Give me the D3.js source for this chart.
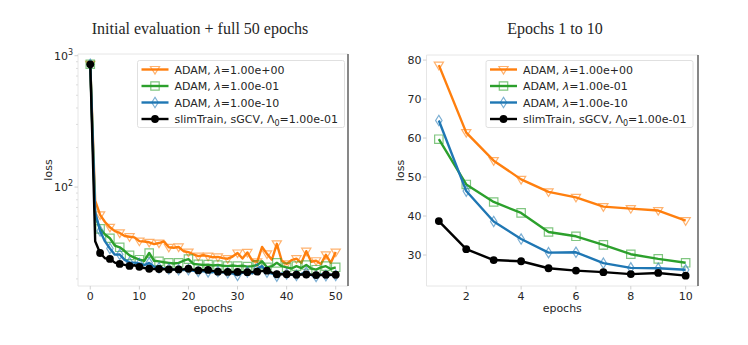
<!DOCTYPE html>
<html>
<head>
<meta charset="utf-8">
<script src="https://cdn.jsdelivr.net/npm/d3@7"></script>
<style>
  body { margin: 0; background: #fff; }
  text { font-family: "DejaVu Sans", sans-serif; fill: #262626; }
  .title { font-family: "Liberation Serif", serif; font-size: 16px; }
</style>
</head>
<body>
<svg id="chart" width="748" height="345"></svg>
<script>
// loss per epoch, epoch 0 is the initial evaluation
var epochs = d3.range(0, 51)
var adamL1 = [860, 78.7, 61.4, 54.2, 49.4, 46.2, 44.8, 42.4, 41.9, 41.4, 38.8,
  38.5, 38.0, 36.8, 37.5, 38.6, 34.8, 34.5, 35.0, 32.5, 32.0,
  30.8, 29.8, 30.3, 29.8, 29.2, 29.4, 28.8, 28.5, 29.6, 31.5,
  28.6, 31.8, 27.5, 27.0, 35.0, 31.0, 28.0, 37.0, 27.5, 26.0,
  27.8, 28.5, 26.5, 32.5, 27.0, 27.5, 26.0, 30.5, 26.5, 32.0]
var adamL01 = [860, 59.7, 48.1, 43.6, 40.8, 35.9, 34.8, 32.6, 30.2, 29.0, 28.0,
  27.5, 31.5, 27.5, 27.2, 26.8, 26.5, 26.2, 26.5, 27.5, 28.3,
  26.0, 25.8, 25.5, 25.7, 25.3, 25.5, 25.2, 25.0, 25.3, 25.0,
  25.2, 24.8, 25.0, 25.5, 27.2, 24.5, 25.0, 26.5, 25.0, 24.5,
  24.0, 25.0, 24.2, 25.5, 24.0, 23.5, 24.5, 25.0, 23.8, 24.5]
var adamL10 = [860, 64.5, 46.4, 38.6, 34.1, 30.6, 30.7, 27.9, 26.7, 26.6, 26.2,
  25.5, 26.5, 24.8, 24.3, 24.0, 23.8, 23.6, 23.5, 23.4, 23.5,
  23.0, 22.8, 22.9, 22.6, 22.5, 22.8, 22.4, 22.3, 22.0, 21.3,
  22.3, 22.6, 22.0, 24.0, 25.0, 22.5, 22.0, 21.0, 22.0, 21.8,
  21.5, 21.3, 21.8, 22.4, 21.4, 20.9, 21.6, 21.2, 21.5, 21.3]
var slim = [860, 38.7, 31.5, 28.7, 28.4, 26.6, 26.0, 25.6, 25.1, 25.4, 24.7,
  24.2, 23.9, 23.8, 23.8, 23.7, 23.6, 23.6, 23.6, 23.7, 23.9,
  23.5, 23.2, 23.3, 23.4, 23.0, 22.7, 22.6, 22.6, 22.6, 22.6,
  22.5, 22.5, 22.6, 22.7, 22.9, 23.1, 22.3, 21.7, 21.7, 21.7,
  21.6, 21.5, 21.6, 21.6, 21.5, 21.4, 21.4, 21.5, 21.5, 21.5]

var leftXTicks = [0, 10, 20, 30, 40, 50]
var rightXTicks = [2, 4, 6, 8, 10]
var rightYTicks = [30, 40, 50, 60, 70, 80]

var series = [
  {name: "l1", lam: "1.00e+00", values: adamL1, color: "#ff7f0e", marker: "tri"},
  {name: "l01", lam: "1.00e-01", values: adamL01, color: "#2ca02c", marker: "square"},
  {name: "l10", lam: "1.00e-10", values: adamL10, color: "#1f77b4", marker: "diamond"},
  {name: "slim", lam: "1.00e-01", values: slim, color: "#000000", marker: "circle"}
]

var svg = d3.select("#chart")

function markerPath(type) {
  if (type == "tri") return "M-4.6,-3L4.6,-3L0,4.6Z"
  if (type == "square") return "M-4.2,-4.2L4.2,-4.2L4.2,4.2L-4.2,4.2Z"
  if (type == "diamond") return "M0,-5.2L3.2,0L0,5.2L-3.2,0Z"
  return d3.symbol().type(d3.symbolCircle).size(48)()
}

function drawMarker(g, s, x, y) {
  var p = g.append("path")
    .attr("d", markerPath(s.marker))
    .attr("transform", "translate(" + x + "," + y + ")")
  if (s.marker == "circle") {
    p.attr("fill", "#000")
  } else {
    p.attr("fill", "none")
      .attr("stroke", s.color)
      .attr("stroke-opacity", 0.6)
      .attr("stroke-width", 1.2)
  }
}

function drawPanel(opt) {
  var g = svg.append("g")
  var x = opt.x, y = opt.y
  var x0 = x.range()[0], x1 = x.range()[1]
  var y0 = y.range()[0], y1 = y.range()[1]

  // frame: light left/bottom/top, dark right spine
  g.append("path")
    .attr("d", "M" + x1 + "," + y1 + "H" + x0 + "V" + y0 + "H" + x1)
    .attr("fill", "none").attr("stroke", "#e6e6e6").attr("stroke-width", 1)
  g.append("line")
    .attr("x1", x1).attr("x2", x1).attr("y1", y1).attr("y2", y0)
    .attr("stroke", "#6a6a6a").attr("stroke-width", 1.6)

  // x ticks
  opt.xTicks.forEach(function(t) {
    g.append("line").attr("x1", x(t)).attr("x2", x(t))
      .attr("y1", y0).attr("y2", y0 + 3.5).attr("stroke", "#d0d0d0")
    g.append("text").attr("x", x(t)).attr("y", y0 + 14)
      .attr("text-anchor", "middle").style("font-size", "11px").text(t)
  })
  // y ticks
  opt.yTicks.forEach(function(t) {
    g.append("line").attr("x1", x0 - 3.5).attr("x2", x0)
      .attr("y1", y(t)).attr("y2", y(t)).attr("stroke", "#d0d0d0")
    var lab = g.append("text").attr("x", x0 - 5).attr("y", y(t) + 4)
      .attr("text-anchor", "end").style("font-size", "11px")
    if (opt.log) {
      lab.text("10")
      lab.append("tspan").attr("dy", -5).style("font-size", "8px")
        .text(Math.round(Math.log10(t)))
    } else {
      lab.text(t)
    }
  })
  if (opt.minor) {
    opt.minor.forEach(function(t) {
      g.append("line").attr("x1", x0 - 2).attr("x2", x0)
        .attr("y1", y(t)).attr("y2", y(t)).attr("stroke", "#dcdcdc")
    })
  }

  // labels and title
  g.append("text").attr("x", (x0 + x1) / 2).attr("y", y0 + 26)
    .attr("text-anchor", "middle").style("font-size", "11px").text("epochs")
  g.append("text")
    .attr("transform", "translate(" + opt.ylabX + "," + ((y0 + y1) / 2) + ") rotate(-90)")
    .attr("text-anchor", "middle").style("font-size", "11px").text("loss")
  g.append("text").attr("class", "title")
    .attr("x", opt.titleX).attr("y", 34)
    .attr("text-anchor", "middle").text(opt.title)

  // lines then markers
  var line = d3.line()
    .x(function(d) { return x(d[0]) })
    .y(function(d) { return y(d[1]) })
  series.forEach(function(s) {
    var pts = opt.epochs.map(function(e) { return [e, s.values[e]] })
    g.append("path").datum(pts)
      .attr("d", line)
      .attr("fill", "none")
      .attr("stroke", s.color)
      .attr("stroke-width", 2.4)
      .attr("stroke-linejoin", "round")
    pts.forEach(function(p, i) {
      if (i % opt.every == 0) drawMarker(g, s, x(p[0]), y(p[1]))
    })
  })

  // legend
  var lx = opt.legX, ly = opt.legY
  g.append("rect").attr("x", lx).attr("y", ly).attr("width", 207).attr("height", 67)
    .attr("rx", 2).attr("fill", "#fff").attr("fill-opacity", 0.85)
    .attr("stroke", "#e0e0e0")
  series.forEach(function(s, i) {
    var cy = ly + 9 + i * 16.5
    g.append("line").attr("x1", lx + 4).attr("x2", lx + 31)
      .attr("y1", cy).attr("y2", cy)
      .attr("stroke", s.color).attr("stroke-width", 2.4)
    drawMarker(g, s, lx + 17.5, cy)
    var t = g.append("text").attr("x", lx + 37).attr("y", cy + 4)
      .style("font-size", "11px")
    if (s.name == "slim") {
      t.append("tspan").text("slimTrain, sGCV, \u039B")
      t.append("tspan").attr("dy", 3).style("font-size", "8px").text("0")
      t.append("tspan").attr("dy", -3).text("=" + s.lam)
    } else {
      t.append("tspan").text("ADAM, ")
      t.append("tspan").style("font-style", "italic").text("\u03BB")
      t.append("tspan").text("=" + s.lam)
    }
  })
}

// left panel: log scale, all epochs, marker on every second epoch
drawPanel({
  x: d3.scaleLinear().domain([-2.5, 52.5]).range([78, 348]),
  y: d3.scaleLog().domain([Math.pow(10, 1.247), Math.pow(10, 3.013)]).range([286, 54]),
  log: true,
  xTicks: leftXTicks,
  yTicks: [100, 1000],
  minor: [20, 30, 40, 50, 60, 70, 80, 90, 200, 300, 400, 500, 600, 700, 800, 900],
  epochs: epochs,
  every: 2,
  title: "Initial evaluation + full 50 epochs",
  titleX: 200,
  ylabX: 52,
  legX: 137.5, legY: 60.5
})

// right panel: epochs 1 to 10, linear scale
drawPanel({
  x: d3.scaleLinear().domain([0.55, 10.45]).range([426.5, 698]),
  y: d3.scaleLinear().domain([22.05, 81.3]).range([286, 55]),
  log: false,
  xTicks: rightXTicks,
  yTicks: rightYTicks,
  epochs: d3.range(1, 11),
  every: 1,
  title: "Epochs 1 to 10",
  titleX: 555,
  ylabX: 404,
  legX: 486, legY: 60.5
})
</script>
</body>
</html>
